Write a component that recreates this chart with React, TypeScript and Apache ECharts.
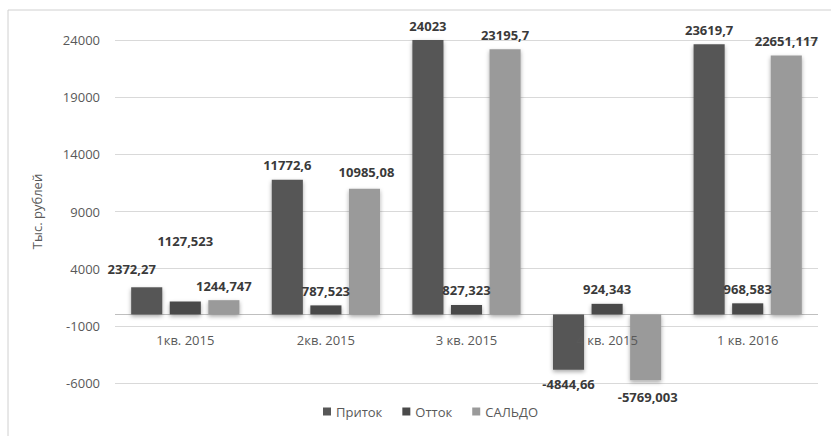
import React, { useEffect, useRef } from "react";
import * as echarts from "echarts";

const categories = ["1кв. 2015", "2кв. 2015", "3 кв. 2015", "4 кв. 2015", "1 кв. 2016"];
const seriesNames = ["Приток", "Отток", "САЛЬДО"];
const inflow = [2372.27, 11772.6, 24023, -4844.66, 23619.7];
const outflow = [1127.523, 787.523, 827.323, 924.343, 968.583];
const balance = [1244.747, 10985.08, 23195.7, -5769.003, 22651.117];
const yTicks = { min: -6000, max: 24000, step: 5000 };

// label nudges (styling only), per series per category
const labelNudge: number[][][] = [
  [[-15, -4], [0, 0], [0, 0], [0, 0], [0, 0]],
  [[0, -46], [0, 0], [0, 0], [0, 0], [0, 0]],
  [[0, 0], [2, -2], [0, 0], [2, 2], [0, 0]],
];

const colors = ["#575757", "#4a4a4a", "#9a9a9a"];
const FONT = "'Open Sans', sans-serif";

const fmt = (v: number) => String(v).replace(".", ",");

export default function App() {
  const ref = useRef<HTMLDivElement>(null);
  useEffect(() => {
    if (!ref.current) return;
    const chart = echarts.init(ref.current, null, { renderer: "svg" });
    const all = [inflow, outflow, balance];
    const series = all.map((vals, si) => ({
      name: seriesNames[si],
      type: "bar",
      barGap: "24%",
      barCategoryGap: "23%",
      itemStyle: {
        color: colors[si],
        shadowBlur: 4,
        shadowColor: "rgba(0,0,0,0.35)",
        shadowOffsetY: 2,
      },
      markLine:
        si === 0
          ? {
              silent: true,
              symbol: "none",
              label: { show: false },
              lineStyle: { color: "#bfbfbf", type: "solid", width: 1 },
              data: [{ yAxis: 0 }],
              z: 1,
            }
          : undefined,
      data: vals.map((v, ci) => ({
        value: v,
        label: {
          show: true,
          position: v < 0 ? "bottom" : "top",
          distance: 8,
          offset: labelNudge[si][ci],
          formatter: () => fmt(v),
          fontFamily: FONT,
          fontSize: 13,
          fontWeight: "bold",
          color: "#3a3a3a",
        },
      })),
    }));
    chart.setOption({
      animation: false,
      backgroundColor: "#fff",
      textStyle: { fontFamily: FONT },
      graphic: [
        {
          type: "rect",
          shape: { x: 8, y: 10, width: 840, height: 440 },
          style: { fill: "none", stroke: "#d0d0d0", lineWidth: 1 },
          silent: true,
        },
      ],
      grid: { left: 115, right: 13, top: 40, bottom: 53 },
      legend: {
        data: seriesNames,
        bottom: 13,
        left: 318,
        icon: "rect",
        itemWidth: 8,
        itemHeight: 8,
        itemGap: 20,
        textStyle: { fontFamily: FONT, fontSize: 13, color: "#595959" },
      },
      xAxis: {
        type: "category",
        data: categories,
        z: 5,
        axisLine: { show: false, onZero: false },
        axisTick: { show: false },
        axisLabel: { margin: -50, fontFamily: FONT, fontSize: 13, color: "#595959" },
      },
      yAxis: {
        type: "value",
        min: yTicks.min,
        max: yTicks.max,
        interval: yTicks.step,
        name: "Тыс. рублей",
        nameLocation: "middle",
        nameRotate: 90,
        nameGap: 72,
        nameTextStyle: { fontFamily: FONT, fontSize: 13, color: "#595959" },
        axisLine: { show: false },
        axisTick: { show: false },
        axisLabel: {
          margin: 15,
          fontFamily: FONT,
          fontSize: 13,
          color: "#595959",
          formatter: (v: number) => String(v),
        },
        splitLine: { lineStyle: { color: "#d9d9d9", width: 1 } },
      },
      series,
    });
    return () => chart.dispose();
  }, []);
  return (
    <div
      ref={ref}
      style={{ position: "fixed", left: 0, top: 0, width: 831, height: 436 }}
    />
  );
}
